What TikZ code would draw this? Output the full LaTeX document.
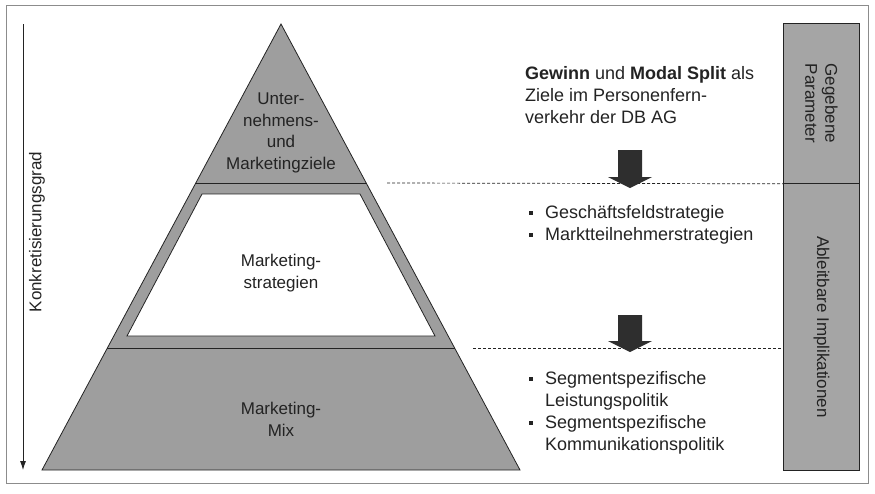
\documentclass[tikz,border=0pt]{standalone}
\usepackage{fontspec}
\setmainfont{Liberation Sans}
\usepackage{tikz}
\usetikzlibrary{arrows.meta,positioning}
\definecolor{pyrgray}{RGB}{158,158,158}
\definecolor{colgray}{RGB}{165,165,165}
\definecolor{inkgray}{RGB}{35,35,35}
\newcommand{\sqbul}{\makebox[16pt][l]{\raisebox{0.22em}{\rule{4pt}{4pt}}}}
\newcommand{\hang}{\hspace*{16pt}}

\begin{document}
\begin{tikzpicture}[
  x=1pt, y=-1pt,
  every node/.style={font=\fontsize{17}{21.7}\selectfont, text=inkgray, inner sep=0pt},
  sidetext/.style={font=\fontsize{18}{22}\selectfont, anchor=west, align=left},
  level/.style={draw=inkgray, fill=pyrgray, line width=0.8pt},
  divider/.style={draw=inkgray, line width=1pt},
  guide/.style={draw=inkgray, dash pattern=on 3pt off 2pt, line width=0.7pt},
  colbox/.style={draw=inkgray, fill=colgray, line width=0.8pt, minimum width=76pt, anchor=north west},
  blockarrow/.style={fill=black!82, draw=none}
]
\useasboundingbox (0,0) rectangle (875,493);
\draw[black!45, line width=1pt] (6,5) rectangle (868,483);

% Konkretisierungsgrad
\coordinate (kstart) at (23,24);
\coordinate (kend) at (23,470);
\draw[-{Latex[length=9pt,width=6pt]}, inkgray, line width=0.8pt] (kstart) -- (kend);
\node[rotate=90] (kgrad) at (37,232) {Konkretisierungsgrad};

% pyramid
\coordinate (apex) at (281,24);
\coordinate (bl) at (42,470);
\coordinate (br) at (520,470);
\path[level] (apex) -- (bl) -- (br) -- cycle;
\draw[draw=inkgray, fill=white, line width=0.8pt] (202,194) -- (360,194) -- (435,336) -- (127,336) -- cycle;
\coordinate (l1a) at (195.8,183);
\coordinate (l1b) at (366.2,183);
\coordinate (l2a) at (107.4,348);
\coordinate (l2b) at (454.6,348);
\draw[divider] (l1a) -- (l1b);
\draw[divider] (l2a) -- (l2b);

\node[align=center] (ziele) at (281,133) {Unter-\\nehmens-\\und\\Marketingziele};
\node[align=center] (strat) at (281,273) {Marketing-\\strategien};
\node[align=center] (mix) at (281,419) {Marketing-\\Mix};

% right column
\node[colbox, minimum height=160pt] (given) at (783,23) {};
\node[colbox, minimum height=287pt] (impl) at (783,183) {};
\node[rotate=-90, align=center, font=\fontsize{17}{20}\selectfont] at (given.center) {Gegebene\\Parameter};
\node[rotate=-90] at (impl.center) {Ableitbare Implikationen};

\coordinate (g1) at (387,183);
\coordinate (g2) at (473,348);
\draw[guide] (g1) -- (given.south west);
\draw[guide] (g2) -- (impl.west |- g2);

\foreach \t/\h in {150/177, 315/341}
  \fill[blockarrow] (618,\t) -- (642,\t) -- (642,\h) -- (652,\h) -- (630,\h+11) -- (608,\h) -- (618,\h) -- cycle;

% texts
\node[sidetext] (goals) at (525,95)
  {\textbf{Gewinn} und \textbf{Modal Split} als\\Ziele im Personenfern-\\verkehr der DB AG};
\node[sidetext] (list1) at (529,225)
  {\sqbul Geschäftsfeldstrategie\\\sqbul Marktteilnehmerstrategien};
\node[sidetext] (list2) at (529,413)
  {\sqbul Segmentspezifische\\\hang Leistungspolitik\\\sqbul Segmentspezifische\\\hang Kommunikationspolitik};
\end{tikzpicture}
\end{document}
